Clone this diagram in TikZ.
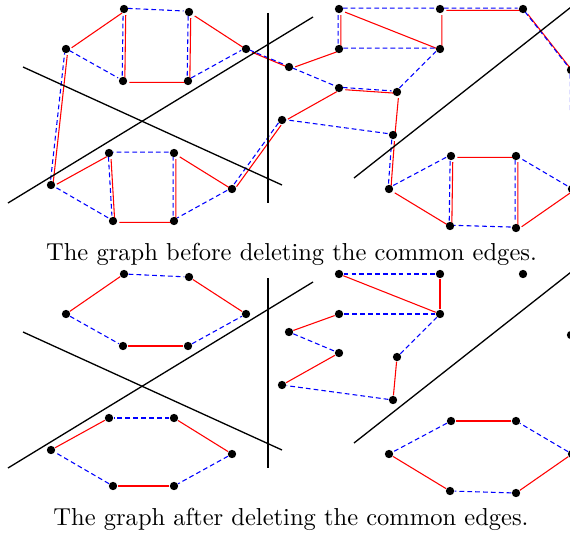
\documentclass[tikz,border=0pt]{standalone}
\usepackage{tikz}
\usepackage{xcolor}
\definecolor{cycred}{HTML}{FF0000}
\definecolor{cycblue}{HTML}{0000FF}
\pgfdeclarelayer{edges}
\pgfsetlayers{edges,main}
\tikzset{
  vert/.style   ={circle, fill=black, inner sep=0pt, minimum size=3.5pt},
  cut/.style    ={draw=black, line width=0.55pt},
  redge/.style  ={draw=cycred, line width=0.45pt},
  bedge/.style  ={draw=cycblue, line width=0.45pt, dash pattern=on 2pt off 1.3pt},
  rshift/.style ={transform canvas={xshift=0.75pt, yshift=-0.6pt}},
  bshift/.style ={transform canvas={xshift=-0.35pt, yshift=0.35pt}},
  caption/.style={anchor=base, font=\fontsize{10.3}{12}\selectfont},
}

\begin{document}
\begin{tikzpicture}[x=0.42pt, y=-0.42pt]
  \useasboundingbox (0,0) rectangle (570,534);
  % vertices and cutting lines, the same in both graphs
  \foreach \g/\dy in {t/0, b/265} {
    \foreach \v/\px/\py in {A1/124/9, A2/189/12, A3/66/49, A4/123/81, A5/188/81,
        A6/246/49, A7/289/67, B1/109/153, B2/174/153, B3/51/185, B4/113/221,
        B5/174/221, B6/232/189, B7/282/120, C1/339/9, C2/440/9, C3/523/9,
        C4/339/49, C5/440/49, C6/571/70, C7/339/88, C8/397/92, C9/393/135,
        C10/389/189, D1/451/156, D2/516/156, D3/450/226, D4/516/228, D5/572/189} {
      \node[vert] (\g\v) at (\px,\py+\dy) {};
    }
    \draw[cut] (8,203+\dy) -- (313,17+\dy);
    \draw[cut] (23,67+\dy) -- (282,185+\dy);
    \draw[cut] (268,13+\dy) -- (268,203+\dy);
    \draw[cut] (354,178+\dy) -- (580,0+\dy);
  }

  \begin{pgfonlayer}{edges}
    % before: the two cycles
    \draw[redge, rshift] (tA3) -- (tA1) -- (tA4) -- (tA5) -- (tA2) -- (tA6)
      -- (tA7) -- (tC4) -- (tC1) -- (tC5) -- (tC2) -- (tC3) -- (tC6) -- (tD5)
      -- (tD4) -- (tD2) -- (tD1) -- (tD3) -- (tC10) -- (tC9) -- (tC8) -- (tC7)
      -- (tB7) -- (tB6) -- (tB2) -- (tB5) -- (tB4) -- (tB1) -- (tB3) -- (tA3);
    \draw[bedge, bshift] (tA3) -- (tA4) -- (tA1) -- (tA2) -- (tA5) -- (tA6)
      -- (tA7) -- (tC7) -- (tC8) -- (tC5) -- (tC4) -- (tC1) -- (tC2) -- (tC3)
      -- (tC6) -- (tD5) -- (tD2) -- (tD4) -- (tD3) -- (tD1) -- (tC10) -- (tC9)
      -- (tB7) -- (tB6) -- (tB5) -- (tB2) -- (tB1) -- (tB4) -- (tB3) -- (tA3);

    % after: common edges removed
    \foreach \a/\b in {A3/A1, A4/A5, A2/A6, A7/C4, C1/C5, C5/C2, D5/D4, D2/D1,
        D3/C10, C9/C8, C7/B7, B6/B2, B5/B4, B1/B3}
      \draw[redge] (b\a) -- (b\b);
    \foreach \a/\b in {A3/A4, A1/A2, A5/A6, A7/C7, C8/C5, C5/C4, C1/C2, D5/D2,
        D4/D3, D1/C10, C9/B7, B6/B5, B2/B1, B4/B3}
      \draw[bedge] (b\a) -- (b\b);
  \end{pgfonlayer}

  \node[caption] (before) at (291.5,260) {The graph before deleting the common edges.};
  \node[caption] (after) at (291,525) {The graph after deleting the common edges.};
\end{tikzpicture}
\end{document}
